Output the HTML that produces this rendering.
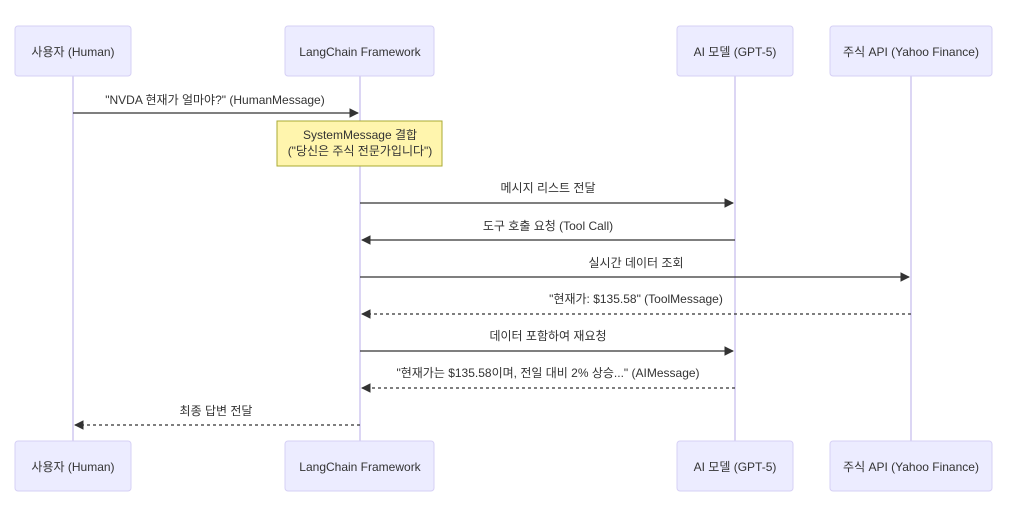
<!DOCTYPE html>
<html><head><meta charset="utf-8"><style>
html,body{margin:0;padding:0;background:#fff;}
svg{display:block;}
text{font-family:"Liberation Sans","Noto Sans CJK KR",sans-serif;font-size:12px;fill:#333;text-anchor:middle;}
.b{fill:#ECECFF;stroke:#d6d0f5;stroke-width:1;}
.l{stroke:#d0c9f0;stroke-width:1.5;}
.m{stroke:#333;stroke-width:1.2;fill:none;}
.d{stroke:#333;stroke-width:1.2;stroke-dasharray:3,3;fill:none;}
</style></head><body>
<svg width="1016" height="510" viewBox="0 0 1016 510" xmlns="http://www.w3.org/2000/svg">
<defs><marker id="a" viewBox="0 0 10 10" refX="9" refY="5" markerWidth="8" markerHeight="8" orient="auto"><path d="M0,0 L10,5 L0,10 z" fill="#333"/></marker></defs>
<line class="l" x1="73" y1="76" x2="73" y2="441"/>
<line class="l" x1="360" y1="76" x2="360" y2="441"/>
<line class="l" x1="735" y1="76" x2="735" y2="441"/>
<line class="l" x1="911" y1="76" x2="911" y2="441"/>
<g>
<rect class="b" x="15" y="26" width="116" height="50" rx="3"/><text x="73" y="56">사용자 (Human)</text>
<rect class="b" x="285" y="26" width="149" height="50" rx="3"/><text x="360" y="56">LangChain Framework</text>
<rect class="b" x="677" y="26" width="116" height="50" rx="3"/><text x="735" y="56">AI 모델 (GPT-5)</text>
<rect class="b" x="830" y="26" width="162" height="50" rx="3"/><text x="911" y="56">주식 API (Yahoo Finance)</text>
<rect class="b" x="15" y="441" width="116" height="50" rx="3"/><text x="73" y="471">사용자 (Human)</text>
<rect class="b" x="285" y="441" width="149" height="50" rx="3"/><text x="360" y="471">LangChain Framework</text>
<rect class="b" x="677" y="441" width="116" height="50" rx="3"/><text x="735" y="471">AI 모델 (GPT-5)</text>
<rect class="b" x="830" y="441" width="162" height="50" rx="3"/><text x="911" y="471">주식 API (Yahoo Finance)</text>
</g>
<rect x="277" y="121" width="165" height="45" fill="#fff5ad" stroke="#aaaa33" stroke-width="1"/>
<text x="360" y="139">SystemMessage 결합</text>
<text x="360" y="155">("당신은 주식 전문가입니다")</text>

<text x="215" y="104">"NVDA 현재가 얼마야?" (HumanMessage)</text>
<line class="m" x1="73" y1="113" x2="358" y2="113" marker-end="url(#a)"/>
<text x="548" y="192">메시지 리스트 전달</text>
<line class="m" x1="360" y1="203" x2="733" y2="203" marker-end="url(#a)"/>
<text x="548" y="230">도구 호출 요청 (Tool Call)</text>
<line class="m" x1="735" y1="240" x2="362" y2="240" marker-end="url(#a)"/>
<text x="636" y="267">실시간 데이터 조회</text>
<line class="m" x1="360" y1="277" x2="909" y2="277" marker-end="url(#a)"/>
<text x="636" y="303">"현재가: $135.58" (ToolMessage)</text>
<line class="d" x1="911" y1="314" x2="362" y2="314" marker-end="url(#a)"/>
<text x="548" y="340">데이터 포함하여 재요청</text>
<line class="m" x1="360" y1="351" x2="733" y2="351" marker-end="url(#a)"/>
<text x="548" y="377">"현재가는 $135.58이며, 전일 대비 2% 상승..." (AIMessage)</text>
<line class="d" x1="735" y1="388" x2="362" y2="388" marker-end="url(#a)"/>
<text x="216" y="415">최종 답변 전달</text>
<line class="d" x1="360" y1="425" x2="75" y2="425" marker-end="url(#a)"/>
</svg>
</body></html>
